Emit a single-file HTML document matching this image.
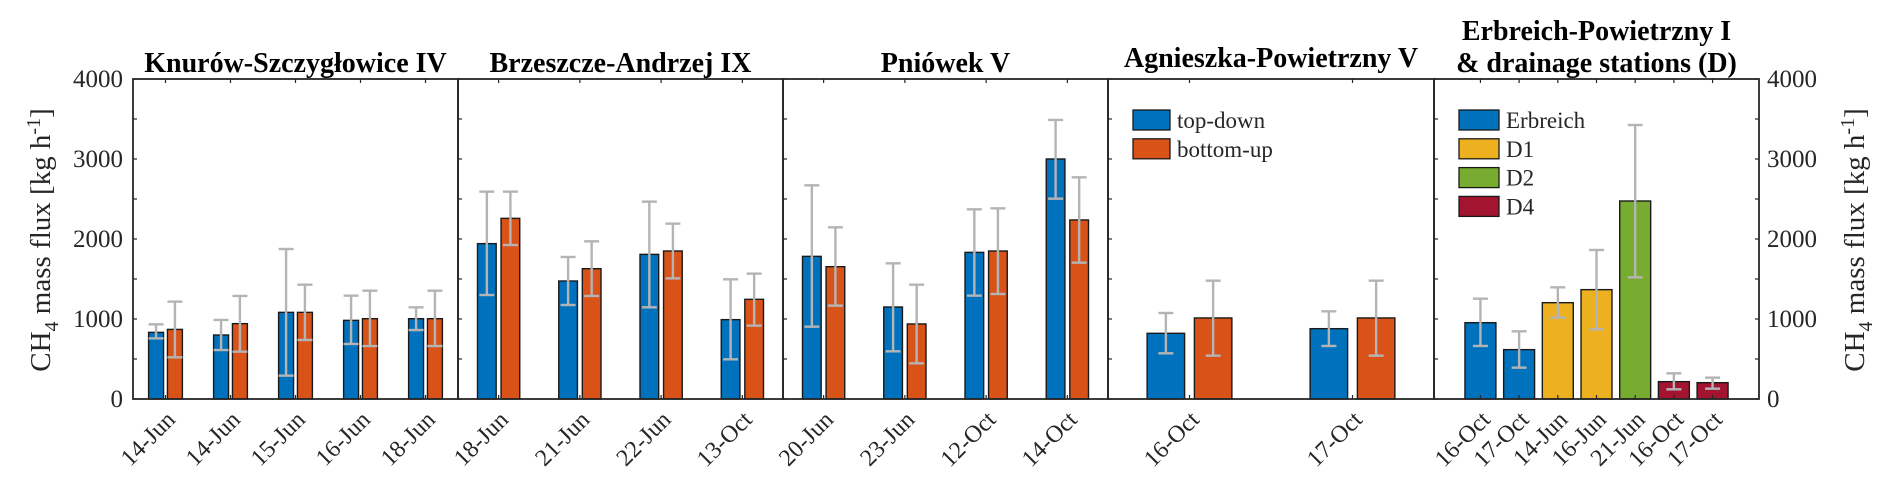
<!DOCTYPE html>
<html><head><meta charset="utf-8">
<style>
html,body{margin:0;padding:0;background:#fff;}
svg{display:block;font-family:"Liberation Serif",serif;}
</style></head>
<body>
<svg id="chart" width="1892" height="495" viewBox="0 0 1892 495" xmlns="http://www.w3.org/2000/svg"></svg>
<script>
// ---- data ----
const yTicks = [0, 1000, 2000, 3000, 4000];
const p1Cats = ["14-Jun","14-Jun","15-Jun","16-Jun","18-Jun"];
const p1TD = [833, 800, 1083, 983, 1004];
const p1TDlo = [758, 612, 292, 688, 862];
const p1TDhi = [933, 988, 1875, 1292, 1146];
const p1BU = [870, 942, 1083, 1004, 1004];
const p1BUlo = [521, 592, 738, 662, 662];
const p1BUhi = [1217, 1288, 1429, 1354, 1354];

const p2Cats = ["18-Jun","21-Jun","22-Jun","13-Oct"];
const p2TD = [1942, 1475, 1808, 992];
const p2TDlo = [1300, 1175, 1146, 496];
const p2TDhi = [2592, 1775, 2467, 1496];
const p2BU = [2258, 1629, 1850, 1246];
const p2BUlo = [1925, 1288, 1508, 917];
const p2BUhi = [2592, 1971, 2192, 1567];

const p3Cats = ["20-Jun","23-Jun","12-Oct","14-Oct"];
const p3TD = [1783, 1150, 1833, 3000];
const p3TDlo = [904, 596, 1292, 2504];
const p3TDhi = [2671, 1696, 2371, 3488];
const p3BU = [1654, 938, 1850, 2238];
const p3BUlo = [1167, 446, 1313, 1704];
const p3BUhi = [2146, 1429, 2383, 2771];

const p4Cats = ["16-Oct","17-Oct"];
const p4TD = [821, 879];
const p4TDlo = [571, 663];
const p4TDhi = [1075, 1096];
const p4BU = [1013, 1013];
const p4BUlo = [542, 542];
const p4BUhi = [1479, 1479];

const p5Cats = ["16-Oct","17-Oct","14-Jun","16-Jun","21-Jun","16-Oct","17-Oct"];
const p5Vals = [954, 617, 1204, 1367, 2475, 217, 204];
const p5Lo = [663, 392, 1017, 871, 1521, 121, 129];
const p5Hi = [1254, 846, 1396, 1863, 3425, 321, 267];
const p5Group = ["Erbreich","Erbreich","D1","D1","D2","D4","D4"];

// ---- styles / layout ----
const colors = {td:"#0072BD", bu:"#D95319", Erbreich:"#0072BD", D1:"#EDB120", D2:"#77AC30", D4:"#A2142F"};
const NS = "http://www.w3.org/2000/svg";
const svg = document.getElementById("chart");
const plotTop = 79, plotBot = 399, yMax = 4000;
function yScale(v){ return plotBot - v/yMax*(plotBot-plotTop); }
function el(tag, attrs, parent){
  const e = document.createElementNS(NS, tag);
  for (const k in attrs) e.setAttribute(k, attrs[k]);
  (parent||svg).appendChild(e);
  return e;
}
function makeX(x0, x1, lo, hi){ return v => x0 + (v-lo)/(hi-lo)*(x1-x0); }

const panels = [
  {x0:133, x1:458, lim:[0.5,5.5], cats:p1Cats, title:["Knurów-Szczygłowice IV"], name:"knurow"},
  {x0:458, x1:783, lim:[0.5,4.5], cats:p2Cats, title:["Brzeszcze-Andrzej IX"], name:"brzeszcze"},
  {x0:783, x1:1108, lim:[0.5,4.5], cats:p3Cats, title:["Pniówek V"], name:"pniowek"},
  {x0:1108, x1:1434, lim:[0.5,2.5], cats:p4Cats, title:["Agnieszka-Powietrzny V"], name:"agnieszka"},
  {x0:1434, x1:1759, lim:[-0.2,8.2], cats:p5Cats, title:["Erbreich-Powietrzny I","& drainage stations (D)"], name:"erbreich"}
];
const pairData = [
  [p1TD,p1TDlo,p1TDhi,p1BU,p1BUlo,p1BUhi],
  [p2TD,p2TDlo,p2TDhi,p2BU,p2BUlo,p2BUhi],
  [p3TD,p3TDlo,p3TDhi,p3BU,p3BUlo,p3BUhi],
  [p4TD,p4TDlo,p4TDhi,p4BU,p4BUlo,p4BUhi]
];

function errBar(cx, lo, hi, g, nm){
  const e = el("g", {}, g);
  
  
  el("line",{x1:cx,x2:cx,y1:yScale(lo),y2:yScale(hi),stroke:"#b4b4b4","stroke-width":2.4},e);
  el("line",{x1:cx-7.5,x2:cx+7.5,y1:yScale(lo),y2:yScale(lo),stroke:"#b4b4b4","stroke-width":2.4},e);
  el("line",{x1:cx-7.5,x2:cx+7.5,y1:yScale(hi),y2:yScale(hi),stroke:"#b4b4b4","stroke-width":2.4},e);
}
function bar(xl, xr, v, fill, g, nm){
  const r = el("rect",{x:xl,y:yScale(v),width:xr-xl,height:yScale(0)-yScale(v),fill:fill,stroke:"#1a1a1a","stroke-width":1.4},g);
  
  
}

panels.forEach((p, pi) => {
  const g = el("g", {});
  
  
  const xs = makeX(p.x0, p.x1, p.lim[0], p.lim[1]);
  if (pi < 4) {
    const d = pairData[pi];
    p.cats.forEach((c, i) => {
      const t = i+1;
      bar(xs(t-0.26), xs(t-0.03), d[0][i], colors.td, g, 'bar-topdown-' + c.toLowerCase());
      bar(xs(t+0.03), xs(t+0.26), d[3][i], colors.bu, g, 'bar-bottomup-' + c.toLowerCase());
      errBar(xs(t-0.145), d[1][i], d[2][i], g, 'errorbar-topdown');
      errBar(xs(t+0.145), d[4][i], d[5][i], g, 'errorbar-bottomup');
    });
  } else {
    p.cats.forEach((c, i) => {
      const t = i+1;
      bar(xs(t-0.4), xs(t+0.4), p5Vals[i], colors[p5Group[i]], g, 'bar-' + p5Group[i].toLowerCase() + '-' + c.toLowerCase());
      errBar(xs(t), p5Lo[i], p5Hi[i], g, 'errorbar-' + p5Group[i].toLowerCase());
    });
  }
  el("rect",{x:p.x0,y:plotTop,width:p.x1-p.x0,height:plotBot-plotTop,fill:"none",stroke:"#262626","stroke-width":1.8},g);
  for (let v=0; v<=4000; v+=500){
    el("line",{x1:p.x0,x2:p.x0+4,y1:yScale(v),y2:yScale(v),stroke:"#262626","stroke-width":1.2},g);
    if (pi===4) el("line",{x1:p.x1,x2:p.x1-4,y1:yScale(v),y2:yScale(v),stroke:"#262626","stroke-width":1.2},g);
  }
  p.cats.forEach((c, i) => {
    const xc = xs(i+1);
    el("line",{x1:xc,x2:xc,y1:plotBot,y2:plotBot-4,stroke:"#262626","stroke-width":1.2},g);
    el("line",{x1:xc,x2:xc,y1:plotTop,y2:plotTop+4,stroke:"#262626","stroke-width":1.2},g);
    const tx = el("text",{x:0,y:0,"text-anchor":"end","font-size":24,fill:"#262626",
      transform:`translate(${xc+11},${421}) rotate(-45)`},g);
    tx.textContent = c;
    
    
  });
  const cx = (p.x0+p.x1)/2;
  p.title.forEach((line, li) => {
    const n = p.title.length;
    const ty = el("text",{x:cx,y:(pi===3?67:72) - (n-1-li)*32,"text-anchor":"middle","font-size":28,"font-weight":"bold",fill:"#000"},g);
    ty.textContent = line;
    
    
  });
});

yTicks.forEach(v => {
  const a = el("text",{x:123,y:yScale(v)+8,"text-anchor":"end","font-size":25,fill:"#262626"});
  a.textContent = v;
  
  
  const b = el("text",{x:1767,y:yScale(v)+8,"text-anchor":"start","font-size":25,fill:"#262626"});
  b.textContent = v;
  
  
});

function yTitle(x, nm){
  const t = el("text",{x:0,y:0,"text-anchor":"middle","font-size":29,fill:"#262626",
    transform:`translate(${x},240) rotate(-90)`});
  
  
  t.innerHTML = 'CH<tspan font-size="20" dy="8">4</tspan><tspan dy="-8"> mass flux [kg h</tspan><tspan font-size="20" dy="-10">-1</tspan><tspan dy="10">]</tspan>';
}
yTitle(50, 'y-axis-title-left');
yTitle(1864, 'y-axis-title-right');

function legend(x, y0, items, nm){
  const g = el("g",{});
  
  
  items.forEach((it, i) => {
    const y = y0 + i*28.8;
    const e = el("g",{},g);
    
    
    el("rect",{x:x,y:y,width:it.w,height:20,fill:it.c,stroke:"#1a1a1a","stroke-width":1.3},e);
    const t = el("text",{x:x+it.w+7,y:y+18,"font-size":23,fill:"#262626"},e);
    t.textContent = it.l;
  });
}
legend(1133, 110, [{c:colors.td,l:"top-down",w:37},{c:colors.bu,l:"bottom-up",w:37}], 'legend-topdown-bottomup');
legend(1459, 110, [{c:colors.Erbreich,l:"Erbreich",w:40},{c:colors.D1,l:"D1",w:40},{c:colors.D2,l:"D2",w:40},{c:colors.D4,l:"D4",w:40}], 'legend-stations');
</script>
</body></html>
